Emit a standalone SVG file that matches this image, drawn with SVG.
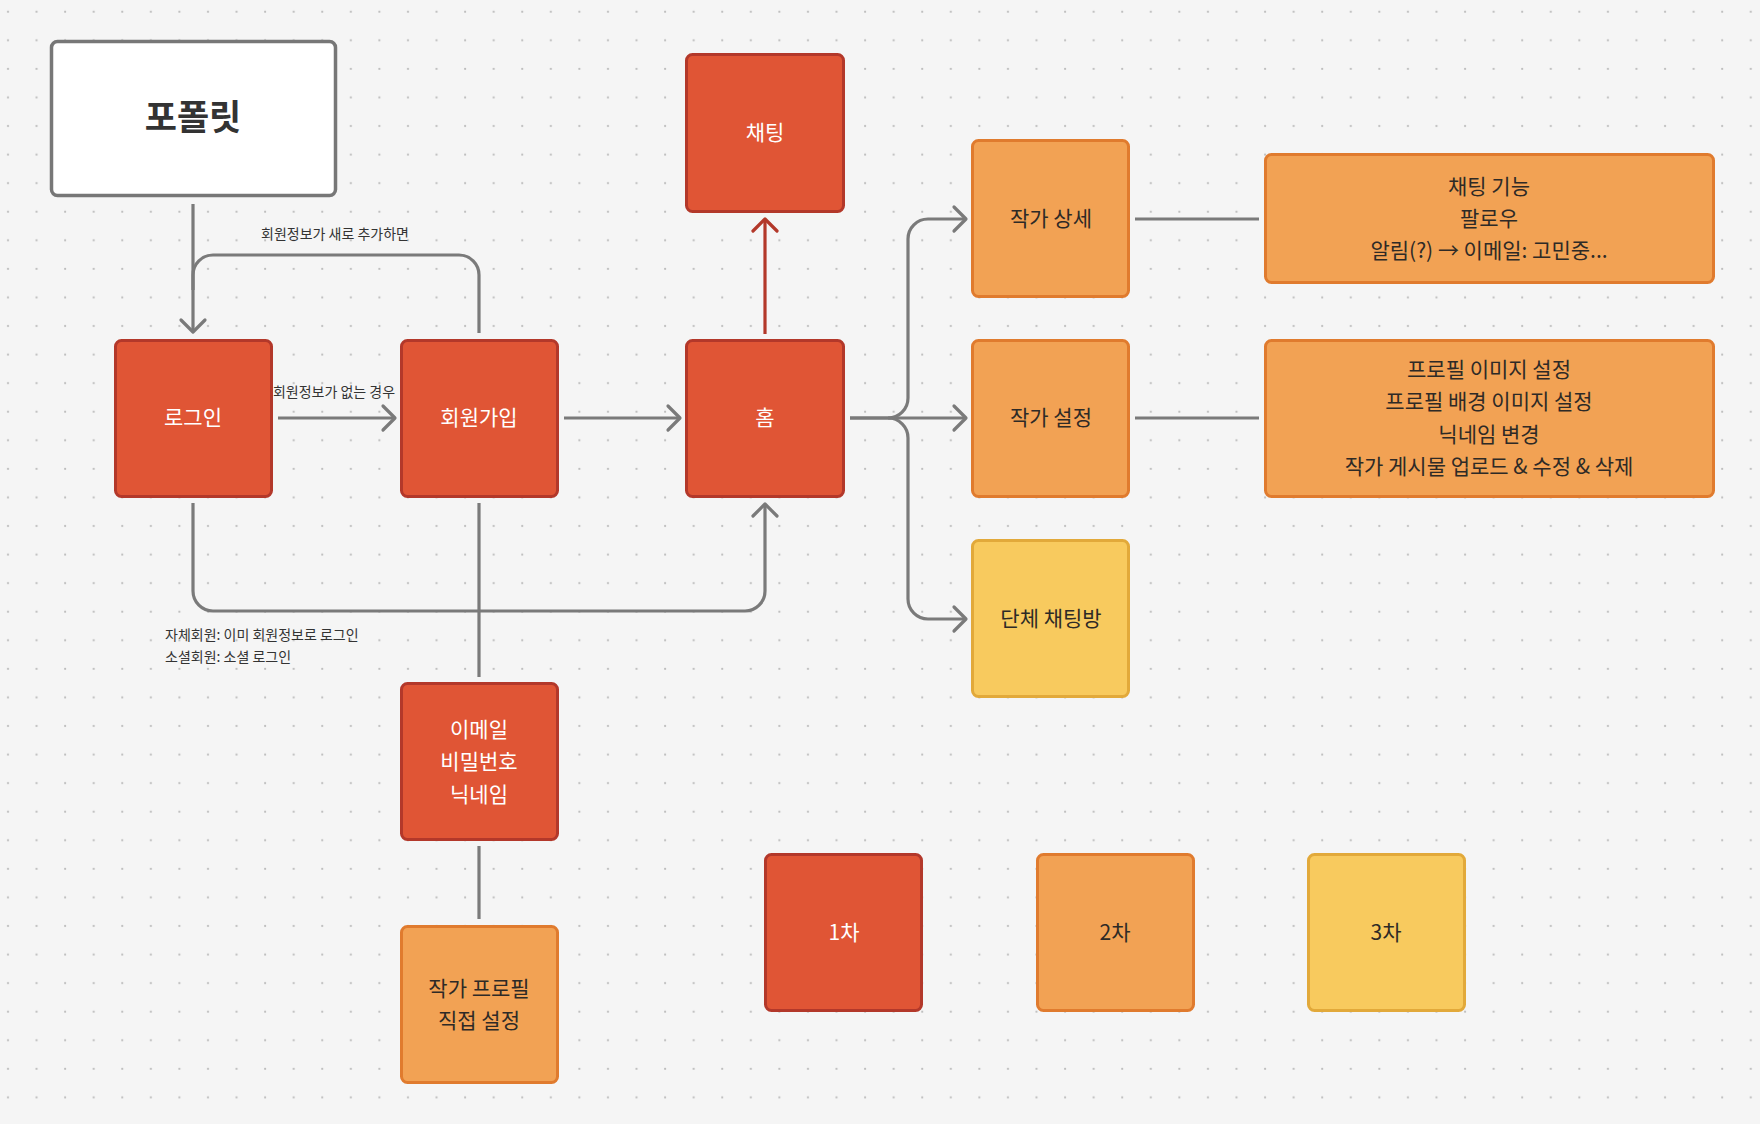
<svg xmlns="http://www.w3.org/2000/svg" width="1760" height="1124" viewBox="0 0 1760 1124">
<defs>
<pattern id="dots" patternUnits="userSpaceOnUse" width="28.57" height="28.57">
<circle cx="8" cy="11.7" r="1.1" fill="#bdbdbd"/>
</pattern>
<marker id="arr" markerUnits="userSpaceOnUse" markerWidth="32" markerHeight="32" viewBox="-16 -16 32 32" refX="0" refY="0" orient="auto">
<path d="M-12,-12 L0,0 L-12,12" fill="none" stroke="#7a7a7a" stroke-width="3.2" stroke-linecap="round" stroke-linejoin="round"/>
</marker>
<marker id="arrRed" markerUnits="userSpaceOnUse" markerWidth="32" markerHeight="32" viewBox="-16 -16 32 32" refX="0" refY="0" orient="auto">
<path d="M-12,-12 L0,0 L-12,12" fill="none" stroke="#b3382a" stroke-width="3.2" stroke-linecap="round" stroke-linejoin="round"/>
</marker>
</defs>
<style>
text { font-family: "Noto Sans CJK KR", "Noto Sans", sans-serif; text-anchor: middle; }
.red rect { fill: #e05535; stroke: #b3382a; stroke-width: 3; }
.org rect { fill: #f2a254; stroke: #e07b2e; stroke-width: 3; }
.yel rect { fill: #f8ca5e; stroke: #e2a93a; stroke-width: 3; }
.red text { fill: #ffffff; font-size: 21px; }
.org text, .yel text { fill: #2e2a26; font-size: 21px; }
.conn path { fill: none; stroke: #7a7a7a; stroke-width: 3.2; }
.lbl { fill: #333333; font-size: 14px; }
</style>
<rect x="0" y="0" width="1760" height="1124" fill="#f5f5f5"/>
<rect x="0" y="0" width="1760" height="1124" fill="url(#dots)"/>

<g id="connectors" class="conn">
<path d="M193,204 V332" marker-end="url(#arr)"/>
<path d="M479,333 V275 A20,20 0 0 0 459,255 H213 A20,20 0 0 0 193,275 V290"/>
<path d="M278,418 H395" marker-end="url(#arr)"/>
<path d="M564,418 H680" marker-end="url(#arr)"/>
<path d="M765,334 V219" marker-end="url(#arrRed)" style="stroke:#b3382a"/>
<path d="M193,503 V591 A20,20 0 0 0 213,611 H745 A20,20 0 0 0 765,591 V504" marker-end="url(#arr)"/>
<path d="M479,503 V677"/>
<path d="M479,846 V919"/>
<path d="M850,418 H888 A20,20 0 0 0 908,398 V239 A20,20 0 0 1 928,219 H966" marker-end="url(#arr)"/>
<path d="M850,418 H966" marker-end="url(#arr)"/>
<path d="M888,418 A20,20 0 0 1 908,438 V599 A20,20 0 0 0 928,619 H966" marker-end="url(#arr)"/>
<path d="M1135,219 H1259"/>
<path d="M1135,418 H1259"/>
<text class="lbl" x="335" y="239">회원정보가 새로 추가하면</text>
<text class="lbl" x="334" y="397">회원정보가 없는 경우</text>
<text class="lbl" x="165" y="640" style="text-anchor:start">자체회원: 이미 회원정보로 로그인</text>
<text class="lbl" x="165" y="662" style="text-anchor:start">소셜회원: 소셜 로그인</text>
</g>

<g id="portfolio">
<rect x="51.5" y="41.5" width="284" height="154" rx="6" fill="#ffffff" stroke="#777777" stroke-width="3.5"/>
<text x="193" y="130" style="font-size:35px;font-weight:bold;fill:#333333">포폴릿</text>
</g>
<g id="login" class="red"><rect x="115.5" y="340.5" width="156" height="156" rx="6"/><text x="193" y="425">로그인</text></g>
<g id="signup" class="red"><rect x="401.5" y="340.5" width="156" height="156" rx="6"/><text x="479" y="425">회원가입</text></g>
<g id="home" class="red"><rect x="686.5" y="340.5" width="157" height="156" rx="6"/><text x="765" y="425">홈</text></g>
<g id="chat" class="red"><rect x="686.5" y="54.5" width="157" height="157" rx="6"/><text x="765" y="140">채팅</text></g>
<g id="author-detail" class="org"><rect x="972.5" y="140.5" width="156" height="156" rx="6"/><text x="1051" y="226">작가 상세</text></g>
<g id="author-settings" class="org"><rect x="972.5" y="340.5" width="156" height="156" rx="6"/><text x="1051" y="425">작가 설정</text></g>
<g id="group-chat" class="yel"><rect x="972.5" y="540.5" width="156" height="156" rx="6"/><text x="1051" y="626">단체 채팅방</text></g>
<g id="detail-features" class="org"><rect x="1265.5" y="154.5" width="448" height="128" rx="6"/>
<text x="1489" y="194">채팅 기능</text><text x="1489" y="226">팔로우</text><text x="1489" y="258">알림(?) → 이메일: 고민중...</text></g>
<g id="settings-features" class="org"><rect x="1265.5" y="340.5" width="448" height="156" rx="6"/>
<text x="1489" y="377">프로필 이미지 설정</text><text x="1489" y="409">프로필 배경 이미지 설정</text><text x="1489" y="442">닉네임 변경</text><text x="1489" y="474">작가 게시물 업로드 &amp; 수정 &amp; 삭제</text></g>
<g id="signup-fields" class="red"><rect x="401.5" y="683.5" width="156" height="156" rx="6"/>
<text x="479" y="737">이메일</text><text x="479" y="769">비밀번호</text><text x="479" y="802">닉네임</text></g>
<g id="author-profile" class="org"><rect x="401.5" y="926.5" width="156" height="156" rx="6"/>
<text x="479" y="996">작가 프로필</text><text x="479" y="1028">직접 설정</text></g>
<g id="legend-1" class="red"><rect x="765.5" y="854.5" width="156" height="156" rx="6"/><text x="844" y="940">1차</text></g>
<g id="legend-2" class="org"><rect x="1037.5" y="854.5" width="156" height="156" rx="6"/><text x="1115" y="940">2차</text></g>
<g id="legend-3" class="yel"><rect x="1308.5" y="854.5" width="156" height="156" rx="6"/><text x="1386" y="940">3차</text></g>
</svg>
